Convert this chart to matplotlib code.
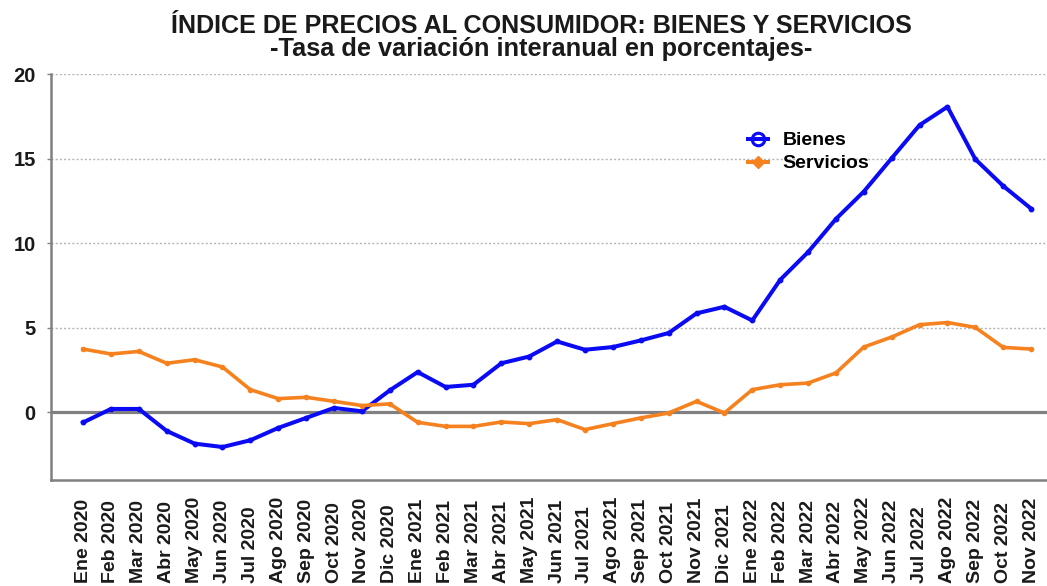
import matplotlib
matplotlib.use("Agg")
import matplotlib.pyplot as plt
from matplotlib.lines import Line2D

# Monthly year-on-year CPI change (%), Jan 2020 - Nov 2022
meses = ["Ene", "Feb", "Mar", "Abr", "May", "Jun",
         "Jul", "Ago", "Sep", "Oct", "Nov", "Dic"]
anios = [2020, 2021, 2022]
etiquetas = [f"{m} {a}" for a in anios for m in meses][:35]

bienes = [-0.6, 0.2, 0.2, -1.1, -1.85, -2.05, -1.65, -0.92, -0.33, 0.26, 0.06, 1.3,
          2.38, 1.5, 1.63, 2.9, 3.3, 4.19, 3.7, 3.86, 4.25, 4.69, 5.85, 6.24,
          5.43, 7.83, 9.47, 11.43, 13.05, 15.02, 16.98, 18.06, 14.96, 13.38, 12.04]
servicios = [3.74, 3.45, 3.6, 2.9, 3.11, 2.68, 1.34, 0.81, 0.89, 0.65, 0.4, 0.5,
             -0.59, -0.83, -0.83, -0.57, -0.67, -0.43, -1.02, -0.67, -0.33, -0.04, 0.65, -0.04,
             1.34, 1.63, 1.73, 2.33, 3.86, 4.45, 5.18, 5.31, 5.02, 3.84, 3.74]
yticks = [0, 5, 10, 15, 20]

AZUL = "#0a0af5"
NARANJA = "#f5821f"
GRIS = "#808080"

plt.rcParams["font.family"] = ["Liberation Sans", "DejaVu Sans"]

fig = plt.figure(figsize=(10.47, 5.86), dpi=100)
ax = fig.add_axes([51 / 1047, 1 - 480 / 586, 996 / 1047, (480 - 74) / 586])

x = list(range(len(etiquetas)))
ax.plot(x, bienes, color=AZUL, lw=2.9, marker="o", ms=3.2, zorder=4)
ax.plot(x, servicios, color=NARANJA, lw=2.6, marker="o", ms=3.0, zorder=4)

ax.set_xlim(-1.15, 34.57)
ax.set_ylim(-4, 20)
ax.set_yticks(yticks)
ax.set_yticklabels([str(v) for v in yticks], fontsize=14.5, fontweight="bold",
                   color="#1a1a1a")
ax.yaxis.grid(True, linestyle=(0, (1.5, 1.5)), color="#b5b5b5", lw=1.0)
ax.set_axisbelow(True)
ax.axhline(0, color=GRIS, lw=2.3, zorder=2)

ax.set_xticks(x)
ax.set_xticklabels(etiquetas, rotation=90, rotation_mode="anchor",
                   ha="left", va="center", fontsize=14, fontweight="bold",
                   color="#1a1a1a")
ax.tick_params(axis="x", length=0, pad=74)
ax.tick_params(axis="y", length=3, width=1, color=GRIS, pad=8)

for side in ("top", "right"):
    ax.spines[side].set_visible(False)
for side in ("left", "bottom"):
    ax.spines[side].set_color(GRIS)
    ax.spines[side].set_linewidth(1.8)

handles = [
    Line2D([], [], color=AZUL, lw=2.9, marker="o", ms=9, mfc="none", mew=2.2),
    Line2D([], [], color=NARANJA, lw=2.9, marker="D", ms=6, mfc=NARANJA),
]
fig.legend(handles, ["Bienes", "Servicios"], loc="upper left",
           bbox_to_anchor=(738 / 1047, 1 - 122 / 586), frameon=False,
           borderpad=0, handlelength=1.05, handletextpad=0.75, labelspacing=0.28,
           prop={"size": 14, "weight": "bold"})

fig.text(541 / 1047, 1 - 33 / 586, "ÍNDICE DE PRECIOS AL CONSUMIDOR: BIENES Y SERVICIOS",
         ha="center", va="baseline", fontsize=18.1, fontweight="bold", color="#1a1a1a")
fig.text(541 / 1047, 1 - 56 / 586, "-Tasa de variación interanual en porcentajes-",
         ha="center", va="baseline", fontsize=18.3, fontweight="bold", color="#1a1a1a")

fig.savefig("out.png", dpi=100)
